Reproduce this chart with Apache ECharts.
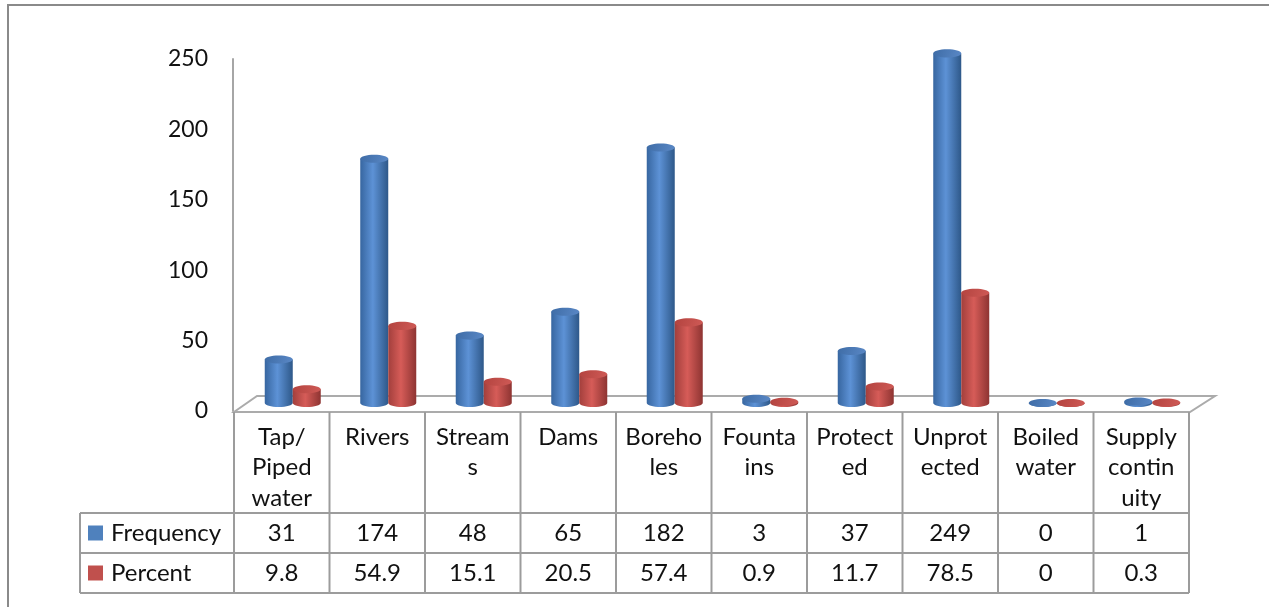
<!DOCTYPE html>
<html>
<head>
<meta charset="utf-8">
<title>Water sources</title>
<script src="https://cdn.jsdelivr.net/npm/echarts@6/dist/echarts.min.js"></script>
<style>
  html, body { margin: 0; padding: 0; background: #ffffff; }
  #chart { width: 1269px; height: 607px; }
</style>
</head>
<body>
<div id="chart"></div>
<script>
// ---- data ----
const categories = ['Tap/\nPiped\nwater', 'Rivers', 'Stream\ns', 'Dams', 'Boreho\nles',
                    'Founta\nins', 'Protect\ned', 'Unprot\nected', 'Boiled\nwater', 'Supply\ncontin\nuity'];
const frequency = [31, 174, 48, 65, 182, 3, 37, 249, 0, 1];
const percent = [9.8, 54.9, 15.1, 20.5, 57.4, 0.9, 11.7, 78.5, 0, 0.3];
const seriesNames = ['Frequency', 'Percent'];
const yMin = 0, yMax = 250, yStep = 50;

// ---- layout / style ----
const FONT = 'Lato';
const FS = 24;
const TABLE_LEFT = 234, TABLE_RIGHT = 1189, LEGEND_LEFT = 80;
const ROW_Y = [412, 513, 553, 593];
const LINE = '#9c9c9c';
const TEXT = '#111111';
const colW = (TABLE_RIGHT - TABLE_LEFT) / categories.length;

const palette = {
  Frequency: { base: '#4f81bd', edgeL: '#3766a0', mid: '#5d92d6', edgeR: '#2e5889', topA: '#3e6ca6', topB: '#5a88c6' },
  Percent:   { base: '#c0504d', edgeL: '#a23f3c', mid: '#d65c58', edgeR: '#8e3432', topA: '#b3433f', topB: '#cf5a56' }
};

// cubic-bezier ellipse pieces
const K = 0.5523;
function lowerHalf(cx, cy, rx, ry) {   // left -> right through the bottom
  return `C${cx - rx},${cy + K * ry} ${cx - K * rx},${cy + ry} ${cx},${cy + ry} ` +
         `C${cx + K * rx},${cy + ry} ${cx + rx},${cy + K * ry} ${cx + rx},${cy} `;
}
function ellipse(cx, cy, rx, ry) {
  return `M${cx - rx},${cy} ` +
         `C${cx - rx},${cy - K * ry} ${cx - K * rx},${cy - ry} ${cx},${cy - ry} ` +
         `C${cx + K * rx},${cy - ry} ${cx + rx},${cy - K * ry} ${cx + rx},${cy} ` +
         `C${cx + rx},${cy + K * ry} ${cx + K * rx},${cy + ry} ${cx},${cy + ry} ` +
         `C${cx - K * rx},${cy + ry} ${cx - rx},${cy + K * ry} ${cx - rx},${cy} Z`;
}

// cylinder drawn in the bar grid; side = -1 left of band centre, +1 right
function cylinderRenderer(side, c) {
  return function (params, api) {
    const idx = api.value(0);
    const val = api.value(1);
    const p0 = api.coord([idx, 0]);
    const p1 = api.coord([idx, val]);
    const band = api.size([1, 0])[0];
    const rx = band * 0.1466;
    const ry = rx * 0.29;
    const cx = p0[0] + side * rx;
    const yb = p0[1], yt = p1[1];
    const body = `M${cx - rx},${yt} L${cx - rx},${yb} ` + lowerHalf(cx, yb, rx, ry) + `L${cx + rx},${yt} Z`;
    return {
      type: 'group',
      children: [
        {
          type: 'path',
          shape: { pathData: body },
          style: {
            fill: new echarts.graphic.LinearGradient(0, 0, 1, 0, [
              { offset: 0, color: c.edgeL }, { offset: 0.45, color: c.mid }, { offset: 1, color: c.edgeR }
            ])
          }
        },
        {
          type: 'path',
          shape: { pathData: ellipse(cx, yt, rx, ry) },
          style: {
            fill: new echarts.graphic.LinearGradient(0, 0, 1, 1, [
              { offset: 0, color: c.topA }, { offset: 1, color: c.topB }
            ])
          }
        }
      ]
    };
  };
}

// ---- static frame: outer border, chart floor, data table ----
const graphics = [];
graphics.push({ type: 'rect', shape: { x: 8, y: 5, width: 1400, height: 800 },
  style: { fill: 'none', stroke: '#8a8a8a', lineWidth: 2 }, z: 0 });
graphics.push({ type: 'polygon', shape: { points: [[234, 412], [257, 396], [1215, 396], [1190, 412]] },
  style: { fill: 'none', stroke: '#ababab', lineWidth: 2 }, z: 1 });
// table horizontals
[ROW_Y[1], ROW_Y[2], ROW_Y[3]].forEach(y => {
  graphics.push({ type: 'line', shape: { x1: LEGEND_LEFT, y1: y, x2: TABLE_RIGHT, y2: y },
    style: { stroke: LINE, lineWidth: 2 }, z: 2 });
});
graphics.push({ type: 'line', shape: { x1: LEGEND_LEFT, y1: ROW_Y[1], x2: LEGEND_LEFT, y2: ROW_Y[3] },
  style: { stroke: LINE, lineWidth: 2 }, z: 2 });
for (let i = 0; i <= categories.length; i++) {
  const x = TABLE_LEFT + i * colW;
  graphics.push({ type: 'line', shape: { x1: x, y1: ROW_Y[0], x2: x, y2: ROW_Y[3] },
    style: { stroke: LINE, lineWidth: 2 }, z: 2 });
}
// table text
function cellText(txt, x, y, vAlign) {
  return { type: 'text', z: 3,
    style: { text: txt, x: x, y: y, font: `${FS}px ${FONT}`, fill: TEXT,
             align: 'center', textAlign: 'center', verticalAlign: vAlign, textVerticalAlign: vAlign,
             lineHeight: 30.5 } };
}
categories.forEach((name, i) => {
  const cx = TABLE_LEFT + (i + 0.5) * colW;
  graphics.push(cellText(name, cx, 422, 'top'));
  graphics.push(cellText(String(frequency[i]), cx, (ROW_Y[1] + ROW_Y[2]) / 2, 'middle'));
  graphics.push(cellText(String(percent[i]), cx, (ROW_Y[2] + ROW_Y[3]) / 2, 'middle'));
});

const chart = echarts.init(document.getElementById('chart'), null, { renderer: 'canvas' });
chart.setOption({
  animation: false,
  backgroundColor: '#ffffff',
  color: [palette.Frequency.base, palette.Percent.base],
  textStyle: { fontFamily: FONT },
  legend: {
    data: seriesNames,
    orient: 'vertical',
    left: 88, top: ROW_Y[1], padding: 0,
    itemWidth: 15, itemHeight: 15, itemGap: 0,
    icon: 'rect',
    textStyle: { fontSize: FS, lineHeight: 40, height: 40, color: TEXT, fontFamily: FONT, padding: [0, 0, 0, 3] }
  },
  grid: [
    { left: 245, top: 52, width: 955, height: 351 },
    { left: 233, top: 59, width: 10, height: 352 }
  ],
  xAxis: [
    { gridIndex: 0, type: 'category', data: categories, show: false },
    { gridIndex: 1, type: 'value', show: false }
  ],
  yAxis: [
    { gridIndex: 0, type: 'value', min: yMin, max: yMax, interval: yStep, show: false },
    { gridIndex: 1, type: 'value', min: yMin, max: yMax, interval: yStep,
      axisLine: { show: true, lineStyle: { color: '#a6a6a6', width: 2 } },
      axisTick: { show: false }, splitLine: { show: false },
      axisLabel: { fontSize: 23, color: TEXT, margin: 25, fontFamily: FONT } }
  ],
  graphic: graphics,
  series: [
    { name: seriesNames[0], type: 'custom', xAxisIndex: 0, yAxisIndex: 0, z: 5,
      itemStyle: { color: palette.Frequency.base },
      renderItem: cylinderRenderer(-1, palette.Frequency),
      data: frequency.map((v, i) => [i, v]) },
    { name: seriesNames[1], type: 'custom', xAxisIndex: 0, yAxisIndex: 0, z: 6,
      itemStyle: { color: palette.Percent.base },
      renderItem: cylinderRenderer(1, palette.Percent),
      data: percent.map((v, i) => [i, v]) }
  ]
});
</script>
</body>
</html>
